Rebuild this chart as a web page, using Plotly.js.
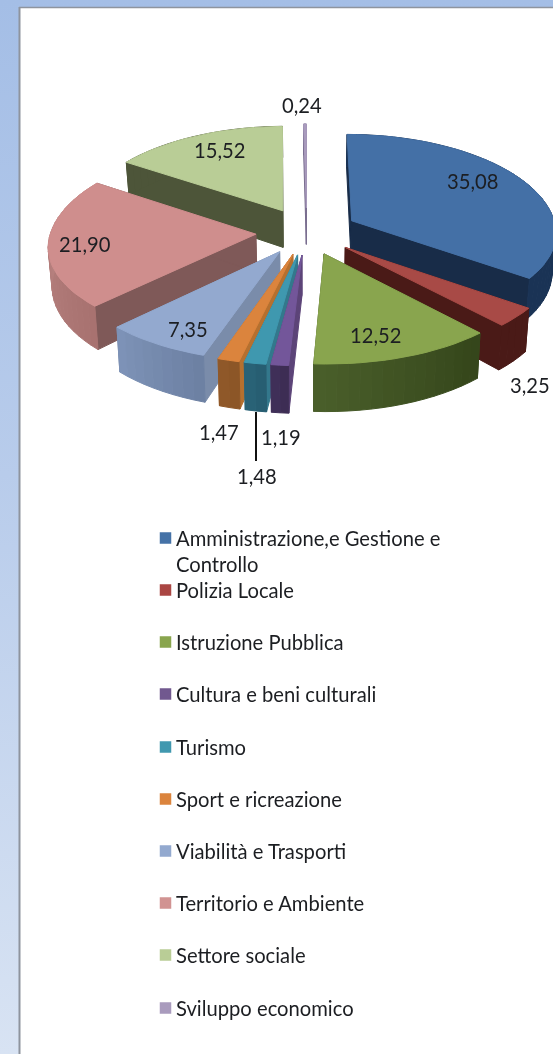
<!DOCTYPE html>
<html>
<head>
<meta charset="utf-8">
<script src="https://cdn.plot.ly/plotly-3.0.1.min.js"></script>
<style>
html,body{margin:0;padding:0;width:553px;height:1054px;overflow:hidden;background:linear-gradient(180deg,#A4BEE6 0%,#B8CCEB 45%,#D8E3F3 100%);}
#chart{width:553px;height:1054px;filter:blur(0.45px);}
</style>
</head>
<body>
<div id="chart"></div>
<script>
// ---- data ----
const categories = ["Amministrazione,e Gestione e<br>Controllo","Polizia Locale","Istruzione Pubblica","Cultura e beni culturali","Turismo","Sport e ricreazione","Viabilità e Trasporti","Territorio e Ambiente","Settore sociale","Sviluppo economico"];
const values = [35.08,3.25,12.52,1.19,1.48,1.47,7.35,21.90,15.52,0.24];
// ---- styles ----
const topColors  = ["#4470A6","#A84A46","#89A54E","#73569A","#3F98AF","#DB843D","#93A9CF","#CF8E8D","#B9CD96","#A99BBD"];
const edgeColors = ["#182C48","#4A1A17","#3E4F1E","#5C4478","#33788C","#B5702F","#7A8CAA","#7F5958","#4D5539","#7A6E90"];
const rimA = ["#1A3355","#4A1A17","#4A5F2A","#40305A","#2A6478","#91592A","#7E93B8","#C08A88","#4D5539","#7A6E90"];
const rimB = ["#1A3355","#4A1A17","#34451A","#3C2C52","#265C70","#8A5526","#6C80A2","#A87270","#4D5539","#7A6E90"];
const legendColors = ["#4572A7","#AA4643","#89A54E","#71588F","#4198AF","#DB843D","#93A9CF","#D19392","#B9CD96","#A99BBD"];
const drawOrder = [9,8,0,1,7,6,5,4,3,2];
const labelX = [472,530,375,281,257,219,188,85,219,302];
const labelY = [181,385,335,437,476,432,329,244,150,105];
const legendY = [538,590,642,694,747,799,851,903,955,1008];

// ---- projection of the pie (scene → plot units) ----
const cx=306.7, cy=231.7, R=205, EX=51, KFAR=0.48, KNEAR=0.45, P=0.00055, H=38;
function proj(X,Y,z){
  const s=1/(1+P*Y);
  const K=Y>=0?KFAR:KNEAR;
  return [cx+X*s*(1-0.0004*z), cy-Y*K*s+z*Math.pow(s,1.5)];
}
const rad=d=>d*Math.PI/180;
function dir(a){return [Math.sin(rad(a)),Math.cos(rad(a))];}

const traces=[];
function poly(pts,color,name){
  const xs=pts.map(p=>p[0]),ys=pts.map(p=>p[1]);
  xs.push(xs[0]);ys.push(ys[0]);
  traces.push({type:'scatter',mode:'lines',x:xs,y:ys,fill:'toself',fillcolor:color,
    line:{color:color,width:1},hoverinfo:'skip',showlegend:false,name:name});
}
function mix(a,b,t){
  const h=c=>[1,3,5].map(i=>parseInt(c.substr(i,2),16));
  const A=h(a),B=h(b);
  return 'rgb('+A.map((v,i)=>Math.round(v+(B[i]-v)*t)).join(',')+')';
}

const total=values.reduce((a,b)=>a+b,0);
const starts=[];let acc=0;
values.forEach(v=>{starts.push(acc/total*360);acc+=v;});

drawOrder.forEach(i=>{
  const a0=starts[i],a1=a0+values[i]/total*360,mid=(a0+a1)/2;
  const m=dir(mid);
  const ox=m[0]*EX,oy=m[1]*EX;
  const pt=(a,z)=>{const d=dir(a);return proj(ox+R*d[0],oy+R*d[1],z);};
  const ap=z=>proj(ox,oy,z);
  const n=Math.max(2,Math.ceil((a1-a0)/3));
  const ang=[];for(let k=0;k<=n;k++)ang.push(a0+(a1-a0)*k/n);
  // side walls
  poly([ap(0),pt(a0,0),pt(a0,H),ap(H)],edgeColors[i],categories[i]);
  poly([ap(0),pt(a1,0),pt(a1,H),ap(H)],edgeColors[i],categories[i]);
  // curved wall, shaded band by band
  for(let k=0;k<n;k++){
    const t=(ang[k]+ang[k+1])/2;
    poly([pt(ang[k],0),pt(ang[k+1],0),pt(ang[k+1],H),pt(ang[k],H)],
      mix(rimB[i],rimA[i],(t-a0)/(a1-a0)),categories[i]);
  }
  // top face
  poly([ap(0)].concat(ang.map(a=>pt(a,0))),topColors[i],categories[i]);
});

// leader line of the 1,48 label
traces.push({type:'scatter',mode:'lines',x:[256,256],y:[412,461],line:{color:'#111',width:2},hoverinfo:'skip',showlegend:false});

// legend swatches
traces.push({type:'scatter',mode:'markers',x:legendY.map(()=>165.5),y:legendY,
  marker:{symbol:'square',size:11.5,color:legendColors,line:{width:0}},hoverinfo:'skip',showlegend:false});

const font={family:'Lato, "Open Sans", sans-serif',size:20.2,color:'#1c1e22'};
const annotations=[];
values.forEach((v,i)=>{
  annotations.push({x:labelX[i],y:labelY[i],xref:'x',yref:'y',text:v.toFixed(2).replace('.',','),
    showarrow:false,xanchor:'center',yanchor:'middle',font:font});
});
categories.forEach((c,i)=>{
  annotations.push({x:174,y:legendY[i]-14,xref:'x',yref:'y',text:c,showarrow:false,
    xanchor:'left',yanchor:'top',align:'left',font:font});
});

const layout={
  width:553,height:1054,margin:{l:0,r:0,t:0,b:0},
  paper_bgcolor:'rgba(0,0,0,0)',plot_bgcolor:'rgba(0,0,0,0)',showlegend:false,
  xaxis:{range:[0,553],visible:false,fixedrange:true},
  yaxis:{range:[1054,0],visible:false,fixedrange:true},
  shapes:[
    {type:'rect',layer:'below',xref:'x',yref:'y',x0:20,x1:560,y0:7,y1:1060,fillcolor:'#FFFFFF',line:{width:0}},
    {type:'line',layer:'below',xref:'x',yref:'y',x0:19.5,x1:19.5,y0:7,y1:1054,line:{color:'#8E949E',width:2}},
    {type:'line',layer:'below',xref:'x',yref:'y',x0:19,x1:553,y0:7.5,y1:7.5,line:{color:'#8E949E',width:1.5}}
  ],
  annotations:annotations
};
Plotly.newPlot('chart',traces,layout,{displayModeBar:false,staticPlot:true});
</script>
</body>
</html>
